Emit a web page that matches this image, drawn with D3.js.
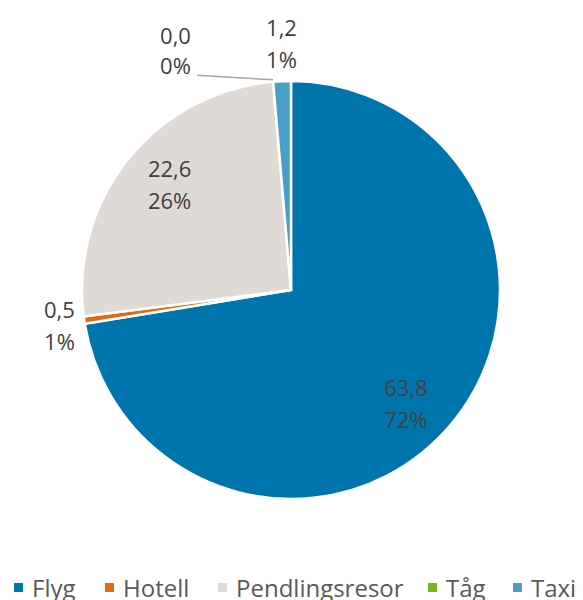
<!DOCTYPE html>
<html>
<head>
<meta charset="utf-8">
<script src="https://cdn.jsdelivr.net/npm/d3@7"></script>
<style>
  html, body { margin: 0; padding: 0; background: #fff; }
  svg { display: block; font-family: "Open Sans", "Noto Sans", sans-serif; }
</style>
</head>
<body>
<svg id="chart" width="583" height="600"></svg>
<script>
// Travel emissions by category
const categories = ["Flyg", "Hotell", "Pendlingsresor", "Tåg", "Taxi"];
const values = [63.8, 0.5, 22.6, 0.0, 1.2];
const colors = ["#0075ad", "#df6a12", "#e0dad7", "#7ab51e", "#4a9fc9"];

const W = 583, H = 600;
const cx = 291, cy = 290, R = 209;

const svg = d3.select("#chart");
const g = svg.append("g").attr("transform", `translate(${cx},${cy})`);

const data = categories.map((c, i) => ({ name: c, value: values[i], color: colors[i] }));
const total = d3.sum(values);

const pie = d3.pie().sort(null).value(d => d.value);
const arcs = pie(data);
const arc = d3.arc().innerRadius(0).outerRadius(R);

g.selectAll("path.slice")
  .data(arcs.filter(a => a.endAngle - a.startAngle > 0))
  .join("path")
  .attr("class", "slice")
  .attr("d", arc)
  .attr("fill", d => d.data.color)
  .attr("stroke", "#fff")
  .attr("stroke-width", 2.5)
  .attr("stroke-linejoin", "miter");

const sv = d3.formatLocale({ decimal: ",", thousands: " ", grouping: [3], currency: ["", " kr"] });
const fmtVal = sv.format(".1f");
const fmtPct = v => Math.round(v / total * 100) + "%";

const FS = 22;

function labelBlock(x, y, d, line) {
  // two-line label: value on top, share below, block centred vertically on y
  const L = line || 32;
  const t = g.append("text")
    .attr("text-anchor", "middle")
    .attr("font-size", FS)
    .attr("fill", "#404040");
  t.append("tspan").attr("x", x).attr("y", y - L / 2 + 8).text(fmtVal(d.value));
  t.append("tspan").attr("x", x).attr("y", y + L / 2 + 8).text(fmtPct(d.value));
}

const pos = (a, r) => [Math.sin(a) * r, -Math.cos(a) * r];

// small nudges for the inside labels
const nudge = { "Flyg": [-7, 10], "Pendlingsresor": [3, -5] };

arcs.forEach(a => {
  const mid = (a.startAngle + a.endAngle) / 2;
  const share = a.data.value / total;
  if (share > 0.1) {
    const [x, y] = pos(mid, R * 0.765);
    const [nx, ny] = nudge[a.data.name] || [0, 0];
    labelBlock(x + nx, y + ny, a.data);
  } else if (a.data.name === "Tåg") {
    // zero share: leader line to a label off to the left
    const [x0, y0] = pos(mid, R + 2);
    const x1 = x0 - 76, y1 = y0 - 4.5;
    g.append("line")
      .attr("x1", x0).attr("y1", y0).attr("x2", x1).attr("y2", y1)
      .attr("stroke", "#a6a6a6").attr("stroke-width", 1.5);
    labelBlock(x1 - 21.5, y1 - 24, a.data, 30);
  } else if (a.data.name === "Taxi") {
    const [x, y] = pos(mid, R + 37);
    labelBlock(x + 1, y, a.data);
  } else {
    const [x, y] = pos(mid, R + 25);
    labelBlock(x, y + 2, a.data);
  }
});

// legend along the bottom
const legendTextX = [33, 124, 237, 447, 532];
const legend = svg.append("g").attr("transform", "translate(0,587.5)");
data.forEach((d, i) => {
  const item = legend.append("g").attr("transform", `translate(${legendTextX[i]},0)`);
  item.append("rect")
    .attr("x", -19).attr("y", -4.5).attr("width", 9).attr("height", 9)
    .attr("fill", d.color);
  item.append("text")
    .attr("x", -1).attr("y", 9)
    .attr("font-size", 24)
    .attr("fill", "#595959")
    .text(d.name);
});
</script>
</body>
</html>
